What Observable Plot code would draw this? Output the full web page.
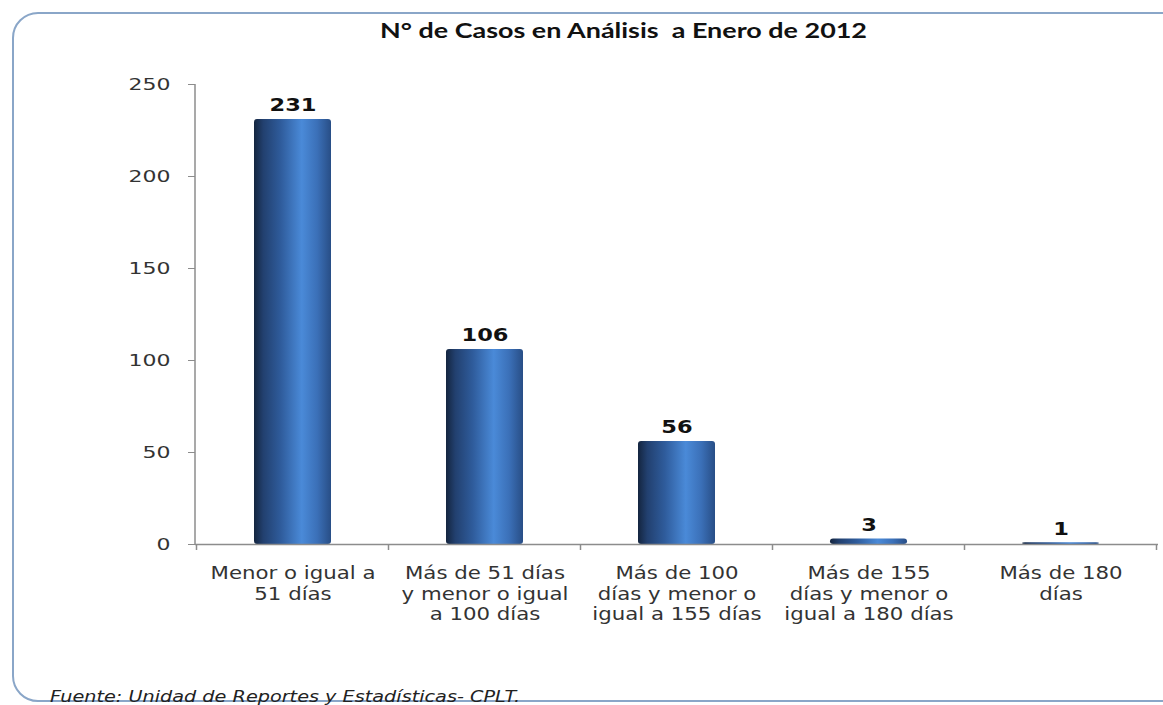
<!DOCTYPE html>
<html>
<head>
<meta charset="utf-8">
<script src="https://cdn.jsdelivr.net/npm/d3@7"></script>
<script src="https://cdn.jsdelivr.net/npm/@observablehq/plot@0.6"></script>
<style>
  html, body { margin: 0; padding: 0; background: #fff; overflow: hidden; }
  #page { position: relative; width: 1163px; height: 705px; }
  #frame { position: absolute; left: 12px; top: 12px; width: 1180px; height: 690px;
           border: 2px solid #8aa6c8; border-radius: 26px; box-sizing: border-box; }
  #title { position: absolute; top: 18px; left: 380px; white-space: nowrap; transform-origin: 0 0;
           font-family: Lato, sans-serif; font-weight: bold; font-size: 20px; color: #111; }
  #chart { position: absolute; left: 0; top: 0; }
  #caption { position: absolute; left: 50px; top: 689px; font-family: "DejaVu Sans", sans-serif; transform-origin: 0 0;
             font-style: italic; font-size: 15px; color: #222; white-space: nowrap; line-height: 17px; }
</style>
</head>
<body>
<div id="page">
  <div id="frame"></div>
  <div id="title">N° de Casos en Análisis&nbsp; a Enero de 2012</div>
  <div id="chart"></div>
  <div id="caption">Fuente: Unidad de Reportes y Estadísticas- CPLT.</div>
</div>
<script>
const categories = [
  "Menor o igual a\n51 días",
  "Más de 51 días\ny menor o igual\na 100 días",
  "Más de 100\ndías y menor o\nigual a 155 días",
  "Más de 155\ndías y menor o\nigual a 180 días",
  "Más de 180\ndías"
];
const values = [231, 106, 56, 3, 1];
const yTicks = [0, 50, 100, 150, 200, 250];

const data = categories.map((c, i) => ({cat: c, value: values[i]}));

// html texts stretched horizontally like the reference
function stretchHtml(el, target) {
  const w = el.getBoundingClientRect().width;
  el.style.transform = `scaleX(${target / w})`;
}
stretchHtml(document.getElementById("title"), 487);
stretchHtml(document.getElementById("caption"), 470);

const plot = Plot.plot({
  width: 1163,
  height: 660,
  marginLeft: 195,
  marginRight: 5,
  marginTop: 84,
  marginBottom: 116,
  style: {fontFamily: "'DejaVu Sans', sans-serif", background: "transparent", overflow: "visible"},
  x: {domain: categories, paddingInner: 0.6, paddingOuter: 0.3, label: null},
  y: {domain: [0, 250], label: null},
  marks: [
    Plot.axisY(yTicks, {tickSize: 7, tickPadding: 18, fontSize: 16.5, stroke: "#8c8c8c", fill: "#333", label: null}),
    Plot.axisX({tickSize: 0, tickPadding: 20, fontSize: 18, lineHeight: 1.14, fill: "#333", label: null}),
    Plot.barY(data, {x: "cat", y: "value", fill: "url(#barGrad)", rx: 3}),
    Plot.ruleY([0], {stroke: "#8c8c8c", strokeWidth: 1.5}),
    Plot.text(data, {x: "cat", y: "value", text: d => String(d.value), dy: -8, lineAnchor: "bottom",
                     fontWeight: "bold", fontSize: 18, fill: "#111"})
  ]
});

document.getElementById("chart").appendChild(plot);

const svg = d3.select(plot);
const defs = svg.insert("defs", ":first-child");
const grad = defs.append("linearGradient").attr("id", "barGrad")
  .attr("x1", "0%").attr("x2", "100%").attr("y1", "0%").attr("y2", "0%");
[["0%", "#14253f"], ["12%", "#22406f"], ["35%", "#2f5c9c"], ["62%", "#4a8ad8"], ["82%", "#3b70b8"], ["100%", "#284e86"]]
  .forEach(([o, c]) => grad.append("stop").attr("offset", o).attr("stop-color", c));

// horizontal stretch of svg texts
function stretchTexts(group, sampleText, target) {
  const texts = svg.selectAll(`g[aria-label="${group}"] text`).nodes();
  if (!texts.length) return;
  let sample = null;
  for (const t of texts) {
    const first = t.querySelector("tspan") || t;
    if (first.textContent === sampleText) { sample = first; break; }
  }
  if (!sample) sample = texts[0];
  const k = target / sample.getComputedTextLength();
  for (const t of texts) {
    const tr = t.getAttribute("transform");
    if (tr && tr.includes("translate")) {
      t.setAttribute("transform", tr + ` scale(${k},1)`);
    } else {
      const x = +t.getAttribute("x") || 0;
      t.setAttribute("transform", `${tr || ""} translate(${x},0) scale(${k},1) translate(${-x},0)`);
    }
  }
}
stretchTexts("x-axis tick label", "Menor o igual a", 165);
stretchTexts("y-axis tick label", "250", 42);
stretchTexts("text", "231", 47);

const xs = plot.scale("x");
const ys = plot.scale("y");
const y0 = ys.apply(0), yTop = ys.apply(250);
const xLeft = xs.range[0];
// y axis line
svg.append("line").attr("x1", xLeft).attr("x2", xLeft).attr("y1", yTop).attr("y2", y0)
  .attr("stroke", "#8c8c8c").attr("stroke-width", 1.5);
// category boundary ticks
const step = xs.apply(categories[1]) - xs.apply(categories[0]);
const bw = xs.bandwidth;
const gap = (step - bw) / 2;
const bounds = categories.map(c => xs.apply(c) - gap);
bounds.push(xs.apply(categories[categories.length - 1]) + bw + gap);
bounds.forEach(b => {
  svg.append("line").attr("x1", b).attr("x2", b).attr("y1", y0).attr("y2", y0 + 6)
    .attr("stroke", "#8c8c8c").attr("stroke-width", 1.5);
});
</script>
</body>
</html>
